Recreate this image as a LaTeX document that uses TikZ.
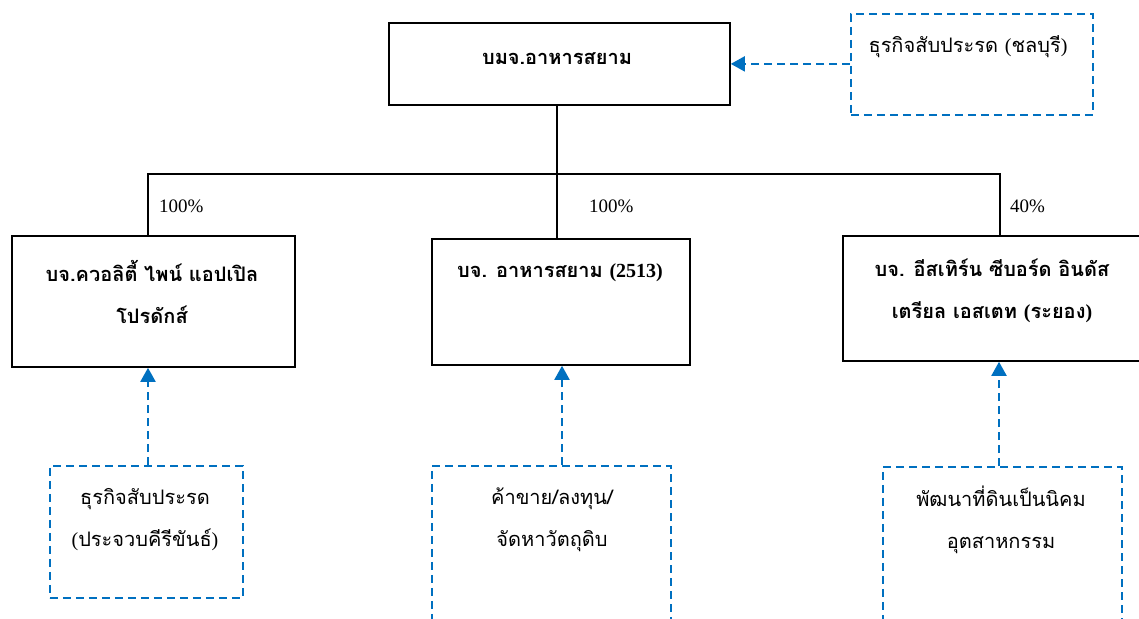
\documentclass[tikz,border=0pt]{standalone}
\usepackage{fontspec}
\setmainfont{Liberation Serif}
\newfontfamily\thaifont[Script=Thai]{Loma}
\usetikzlibrary{arrows.meta}
\definecolor{dblue}{RGB}{0,112,192}
\begin{document}
\begin{tikzpicture}[x=1pt,y=-1pt,
  orgbox/.style={draw=black, line width=1.8pt, inner sep=0pt, anchor=north west},
  bizbox/.style={draw=dblue, line width=1.8pt, dash pattern=on 8pt off 5pt, inner sep=0pt, anchor=north west},
  darrow/.style={draw=dblue, line width=2pt, dash pattern=on 8pt off 5pt, -{Triangle[width=15pt,length=14pt]}},
  link/.style={draw=black, line width=1.8pt},
  title/.style={font=\thaifont\bfseries\fontsize{20}{42}\selectfont, align=center, inner sep=0pt},
  desc/.style={font=\thaifont\fontsize{20}{42}\selectfont, align=center, inner sep=0pt},
  pct/.style={font=\fontsize{19}{22}\selectfont, anchor=west, inner sep=0pt}]
\clip (0,0) rectangle (1139,618);
\useasboundingbox (0,0) rectangle (1139,618);
% boxes
\node[orgbox, minimum width=341pt, minimum height=82pt] (top) at (388,22) {};
\node[bizbox, minimum width=242pt, minimum height=101pt] (bizTop) at (850,13) {};
\node[orgbox, minimum width=283pt, minimum height=131pt] (left) at (11,235) {};
\node[orgbox, minimum width=258pt, minimum height=126pt] (mid) at (431,238) {};
\node[orgbox, minimum width=320pt, minimum height=125pt] (right) at (842,235) {};
\node[bizbox, minimum width=193pt, minimum height=132pt] (bizL) at (49,465) {};
\node[bizbox, minimum width=239pt, minimum height=180pt] (bizM) at (431,465) {};
\node[bizbox, minimum width=239pt, minimum height=180pt] (bizR) at (882,466) {};
% texts
\node[title] (tTop) at (557,59) {บมจ.อาหารสยาม};
\node[title] (tLeft) at (152,292) {บจ.ควอลิตี้ ไพน์ แอปเปิล\\โปรดักส์};
\node[title] (tMid) at (560,273) {บจ. อาหารสยาม {\rmfamily (2513)}};
\node[title] (tRight) at (992,291) {บจ. อีสเทิร์น ซีบอร์ด อินดัส\\เตรียล เอสเตท {\rmfamily(}ระยอง{\rmfamily)}};
\node[desc] (dTop) at (968,47) {ธุรกิจสับประรด {\rmfamily(}ชลบุรี{\rmfamily)}};
\node[desc] (dL) at (145,520) {ธุรกิจสับประรด\\{\rmfamily(}ประจวบคีรีขันธ์{\rmfamily)}};
\node[desc] (dM) at (552,520) {ค้าขาย/ลงทุน/\\จัดหาวัตถุดิบ};
\node[desc] (dR) at (1001,520) {พัฒนาที่ดินเป็นนิคม\\อุตสาหกรรม};
% percentages
\node[pct] (p1) at (159,206) {100\%};
\node[pct] (p2) at (589,206) {100\%};
\node[pct] (p3) at (1010,206) {40\%};
% ownership tree
\coordinate (busL) at (148,174);
\coordinate (busM) at (557,174);
\coordinate (busR) at (1000,174);
\draw[link] (top.south -| busM) -- (busM);
\draw[link] (busL |- left.north) -- (busL) -- (busR) -- (busR |- right.north);
\draw[link] (busM) -- (busM |- mid.north);
% business arrows
\coordinate (aL) at (148,465);
\coordinate (aM) at (562,465);
\coordinate (aR) at (999,466);
\draw[darrow] (bizTop.west |- top.east) -- (top.east);
\draw[darrow] (aL) -- (aL |- left.south);
\draw[darrow] (aM) -- (aM |- mid.south);
\draw[darrow] (aR) -- (aR |- right.south);
\end{tikzpicture}
\end{document}
